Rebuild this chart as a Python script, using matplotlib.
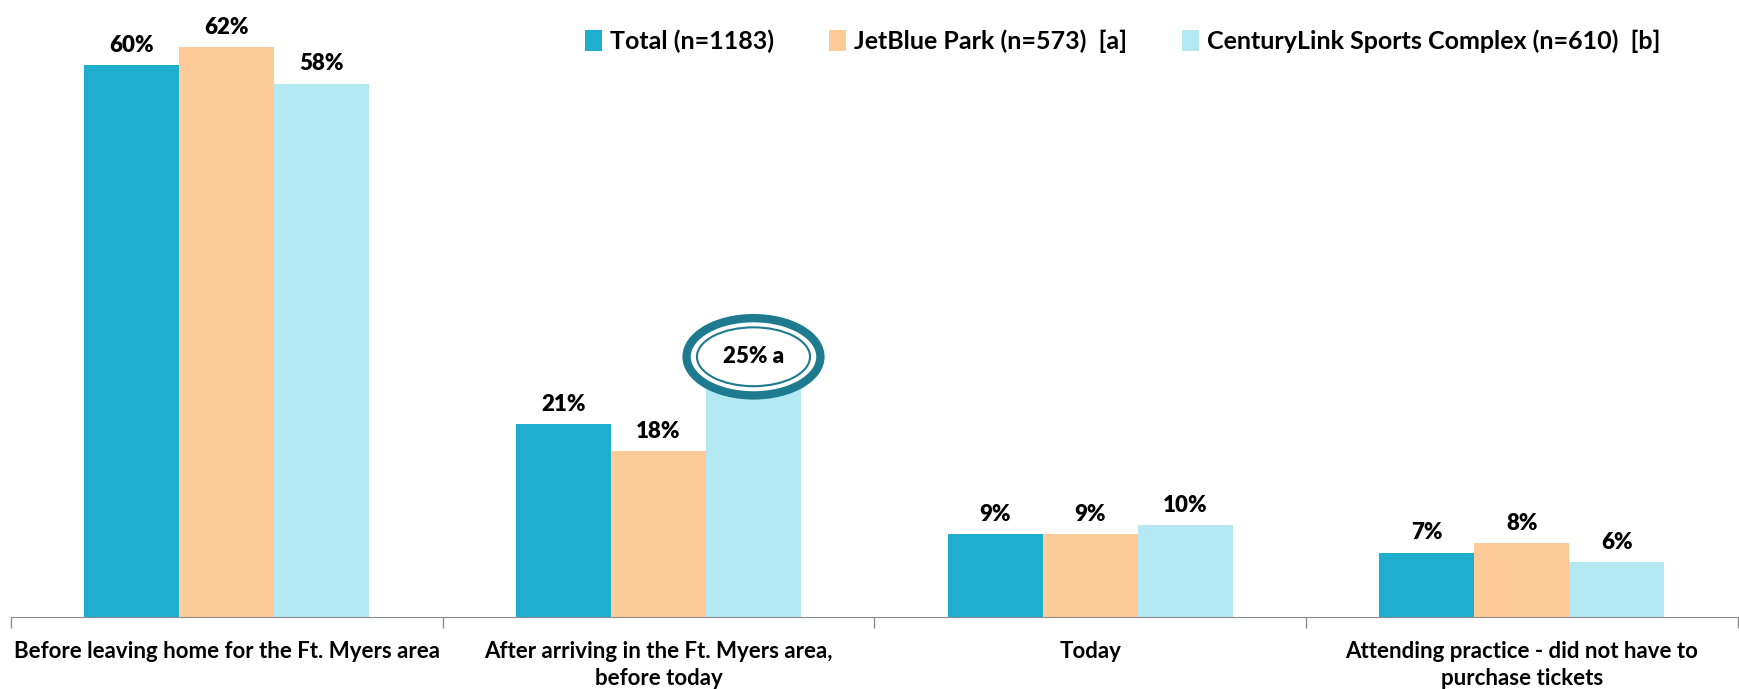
import matplotlib
matplotlib.use("Agg")
import matplotlib.pyplot as plt
import numpy as np
from matplotlib.patches import Ellipse, Patch

plt.rcParams['font.family'] = ['Lato', 'DejaVu Sans']

categories = ["Before leaving home for the Ft. Myers area",
              "After arriving in the Ft. Myers area,\nbefore today",
              "Today",
              "Attending practice - did not have to\npurchase tickets"]
series = ["Total (n=1183)", "JetBlue Park (n=573)  [a]", "CenturyLink Sports Complex (n=610)  [b]"]
total = [60, 21, 9, 7]
jetblue = [62, 18, 9, 8]
century = [58, 25, 10, 6]
colors = ["#20AECF", "#FECB98", "#B4E8F3"]

fig = plt.figure(figsize=(17.39, 6.89), dpi=100)
ax = fig.add_axes([0.0063, 0.1045, 0.993, 0.8955])

x = np.arange(len(categories))
w = 0.22
data = [total, jetblue, century]
for i, (vals, c) in enumerate(zip(data, colors)):
    pos = x + (i - 1) * w
    ax.bar(pos, vals, width=w, color=c, edgecolor="none", zorder=2)
    for j, (p, v) in enumerate(zip(pos, vals)):
        if i == 2 and j == 1:
            continue
        ax.text(p, v + 1.0, f"{v}%", ha="center", va="bottom",
                fontsize=16, fontweight="heavy")

# highlighted significant value
cx = x[1] + w
cy = 28.3
ax.add_patch(Ellipse((cx, cy), 0.31, 8.4, facecolor="white",
                     edgecolor="#1E7A8E", linewidth=6, zorder=3))
ax.add_patch(Ellipse((cx, cy), 0.262, 6.4, facecolor="none",
                     edgecolor="#1E7A8E", linewidth=1.5, zorder=4))
ax.text(cx, cy, f"{century[1]}% a", ha="center", va="center",
        fontsize=16, fontweight="heavy", zorder=5)

ax.set_xlim(-0.5, 3.5)
ax.set_ylim(0, 67.1)
ax.set_yticks([])
for s in ["top", "right", "left"]:
    ax.spines[s].set_visible(False)
ax.spines["bottom"].set_color("#8C8C8C")
ax.set_xticks(x)
ax.set_xticklabels(categories, fontsize=16, fontweight="bold", linespacing=1.4)
ax.tick_params(axis="x", which="major", length=0, pad=17)
ax.set_xticks(np.arange(-0.5, 3.6, 1), minor=True)
ax.tick_params(axis="x", which="minor", length=8, color="#8C8C8C", width=1)

handles = [Patch(facecolor=c, edgecolor="none") for c in colors]
fig.legend(handles, series, loc="center", bbox_to_anchor=(0.6455, 0.94), ncol=3,
           frameon=False, prop={"size": 18, "weight": "bold"},
           handlelength=0.7, handleheight=0.9, handletextpad=0.3, columnspacing=2.2)

fig.savefig("out.png", dpi=100)
